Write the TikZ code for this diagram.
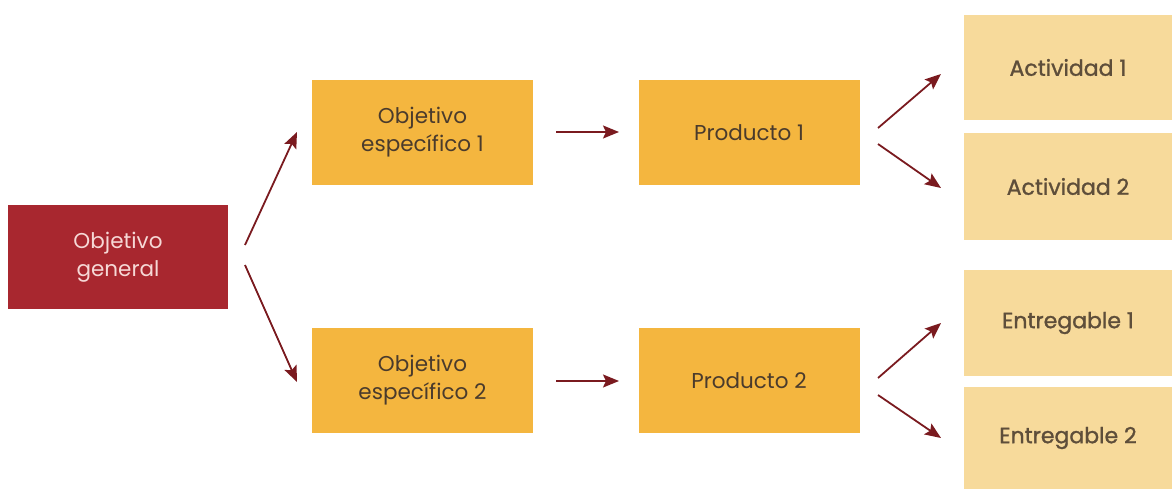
\documentclass[tikz,border=0pt]{standalone}
\usepackage{fontspec}
\setmainfont{Poppins}
\newfontfamily\medfont{Poppins}[FakeBold=1.2]
\usetikzlibrary{arrows.meta}
\definecolor{darkred}{HTML}{A8272F}
\definecolor{gold}{HTML}{F4B63F}
\definecolor{pale}{HTML}{F7DA9B}
\definecolor{arrowc}{HTML}{7A1A1F}
\definecolor{txtdark}{HTML}{4A3B2C}
\definecolor{txtpale}{HTML}{5E4E3A}
\definecolor{txtlight}{HTML}{F6D8D6}
\tikzset{
  box/.style={rectangle, inner sep=0pt, align=center, font=\fontsize{21.5}{28}\selectfont},
  redbox/.style={box, fill=darkred, text=txtlight, minimum width=220pt, minimum height=104pt},
  goldbox/.style={box, fill=gold, text=txtdark, minimum width=221pt, minimum height=105pt},
  palebox/.style={box, fill=pale, text=txtpale, minimum width=208pt, font=\medfont\fontsize{22}{28}\selectfont},
  conn/.style={draw=arrowc, line width=1.8pt, -{Stealth[length=16pt,width=13pt,inset=3pt]}}
}
\begin{document}
\begin{tikzpicture}[x=1pt,y=-1pt]
\useasboundingbox (0,0) rectangle (1172,489);
\node[redbox] (og) at (118,257) {Objetivo\\general};
\node[goldbox] (oe1) at (422.5,132.5) {Objetivo\\específico 1};
\node[goldbox] (p1) at (749,132.5) {Producto 1};
\node[goldbox] (oe2) at (422.5,380.5) {Objetivo\\específico 2};
\node[goldbox] (p2) at (749,380.5) {Producto 2};
\node[palebox, minimum height=105pt] (a1) at (1068,67.5) {Actividad 1};
\node[palebox, minimum height=107pt] (a2) at (1068,186.5) {Actividad 2};
\node[palebox, minimum height=106pt] (e1) at (1068,323) {Entregable 1};
\node[palebox, minimum height=102pt] (e2) at (1068,438) {Entregable 2};
\coordinate (ogA) at (245,245);
\coordinate (oe1A) at (297,132);
\coordinate (ogB) at (245,265);
\coordinate (oe2A) at (297,382);
\coordinate (oe1B) at (556,132);
\coordinate (p1A) at (619,132);
\coordinate (oe2B) at (556,381);
\coordinate (p2A) at (619,381);
\coordinate (p1B) at (878,128);
\coordinate (a1A) at (941,74);
\coordinate (p1C) at (878,144);
\coordinate (a2A) at (941,188);
\coordinate (p2B) at (878,378);
\coordinate (e1A) at (941,323);
\coordinate (p2C) at (878,395);
\coordinate (e2A) at (941,438);
\draw[conn] (ogA) -- (oe1A);
\draw[conn] (ogB) -- (oe2A);
\draw[conn] (oe1B) -- (p1A);
\draw[conn] (oe2B) -- (p2A);
\draw[conn] (p1B) -- (a1A);
\draw[conn] (p1C) -- (a2A);
\draw[conn] (p2B) -- (e1A);
\draw[conn] (p2C) -- (e2A);
\end{tikzpicture}
\end{document}
